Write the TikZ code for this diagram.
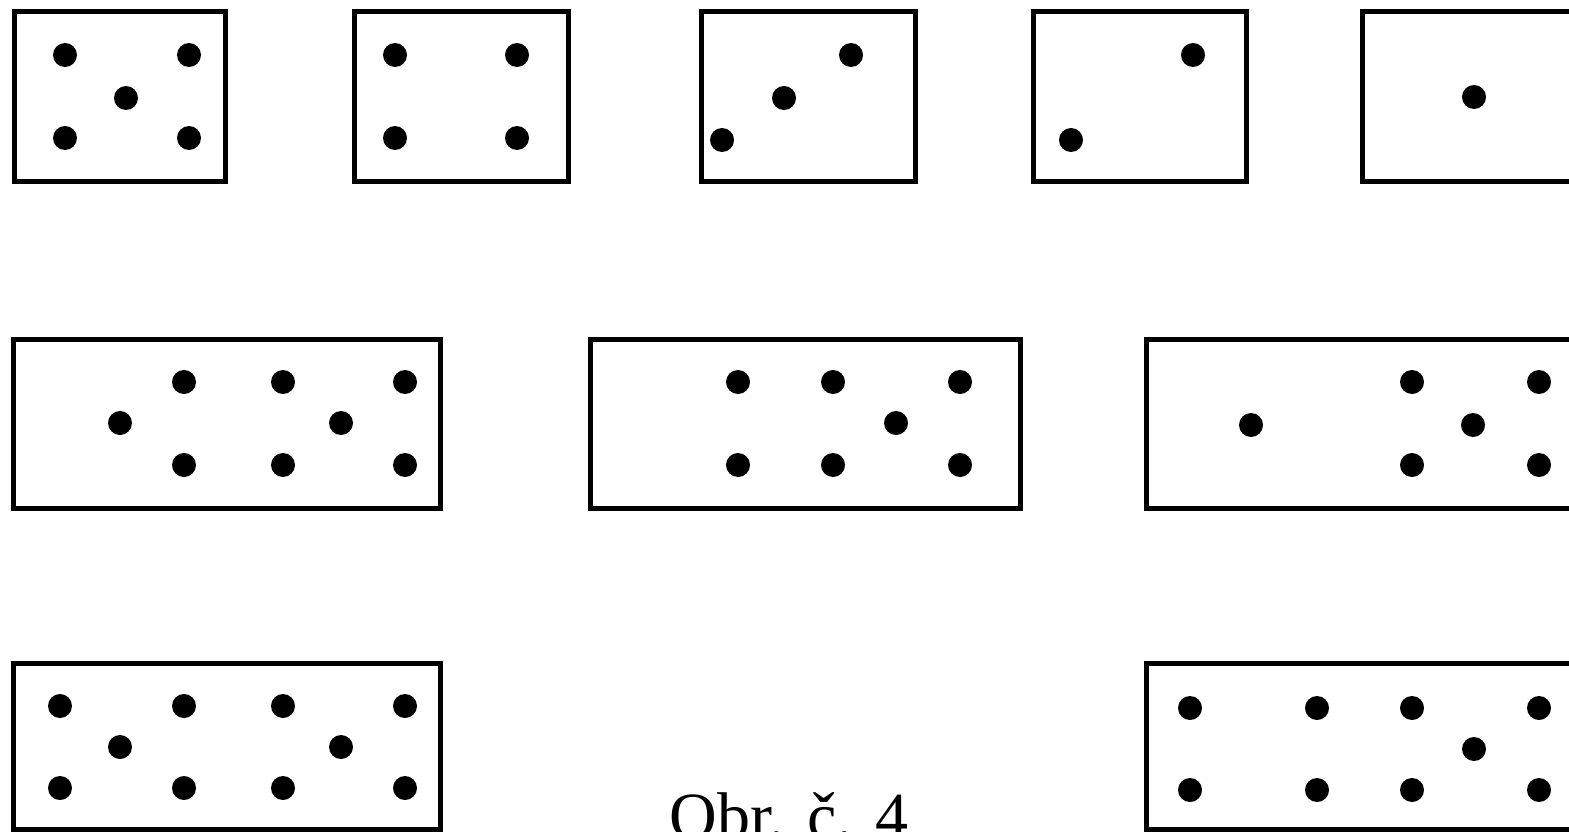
\documentclass[tikz,border=0pt]{standalone}
\usepackage{fontspec}
\setmainfont{Liberation Serif}
\begin{document}
\begin{tikzpicture}[x=1pt,y=-1pt,
  box/.style={draw=black,line width=5pt},
  dot/.style={fill=black}]
\useasboundingbox (0,0) rectangle (1569,832);
\clip (0,0) rectangle (1569,832);
\fill[white] (0,0) rectangle (1569,832);
\newcommand{\dt}[2]{\fill[dot] (#1,#2) circle (12);}
% row 1
\draw[box] (14,12) rectangle (225,181);
\dt{65}{55}\dt{189}{55}\dt{126}{98}\dt{65}{138}\dt{189}{138}
\draw[box] (354,12) rectangle (568,181);
\dt{395}{55}\dt{517}{55}\dt{395}{138}\dt{517}{138}
\draw[box] (701,12) rectangle (915,181);
\dt{851}{55}\dt{784}{98}\dt{722}{140}
\draw[box] (1033,12) rectangle (1246,181);
\dt{1193}{55}\dt{1071}{140}
\draw[box] (1362,12) rectangle (1590,181);
\dt{1474}{97}
% row 2
\draw[box] (13,339) rectangle (440,508);
\dt{184}{382}\dt{283}{382}\dt{405}{382}
\dt{120}{423}\dt{341}{423}
\dt{184}{465}\dt{283}{465}\dt{405}{465}
\draw[box] (590,339) rectangle (1020,508);
\dt{738}{382}\dt{833}{382}\dt{960}{382}
\dt{896}{423}
\dt{738}{465}\dt{833}{465}\dt{960}{465}
\draw[box] (1146,339) rectangle (1590,508);
\dt{1251}{425}
\dt{1412}{382}\dt{1539}{382}
\dt{1473}{425}
\dt{1412}{465}\dt{1539}{465}
% row 3
\draw[box] (13,663) rectangle (440,829);
\dt{60}{706}\dt{184}{706}\dt{283}{706}\dt{405}{706}
\dt{120}{747}\dt{341}{747}
\dt{60}{788}\dt{184}{788}\dt{283}{788}\dt{405}{788}
\draw[box] (1146,663) rectangle (1590,829);
\dt{1190}{708}\dt{1317}{708}\dt{1412}{708}\dt{1539}{708}
\dt{1474}{749}
\dt{1190}{790}\dt{1317}{790}\dt{1412}{790}\dt{1539}{790}
% caption
\node[anchor=base,inner sep=0pt,font=\fontsize{66}{70}\selectfont] (cap) at (789,838) {Obr. č. 4};
\end{tikzpicture}
\end{document}
